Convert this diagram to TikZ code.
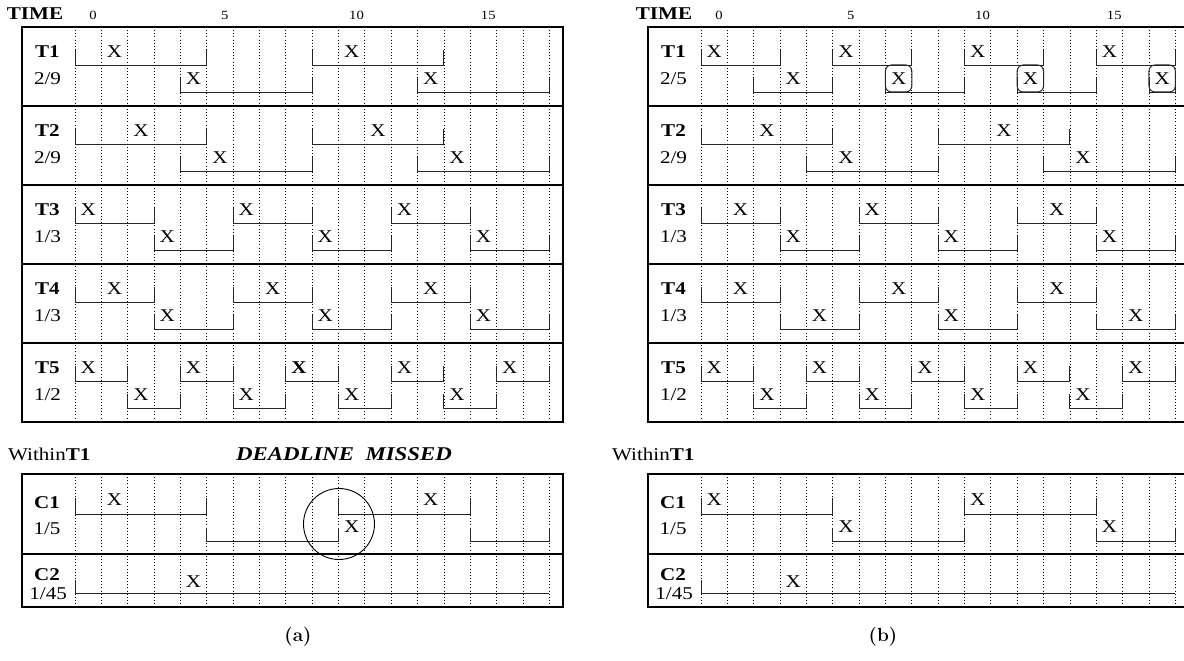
\documentclass[tikz,border=0pt]{standalone}
\usepackage{fontspec}
\newfontfamily\tms[FakeStretch=1.17]{Liberation Serif}
\newcount\xn
\def\uT{23}\def\uL{38}\def\uX{25}
\def\lT{51}\def\lL{65}\def\lX{52}
\newcommand\xup[1]{\global\advance\xn by 1 \node[xl] (x\the\xn) at ({#1+0.5},\uX) {X};}
\newcommand\xlo[1]{\global\advance\xn by 1 \node[xl] (x\the\xn) at ({#1+0.5},\lX) {X};}
\newcommand\hsn[2]{\draw[sl] (#1,\uT) |- (#2,\uL) -- (#2,\uT);}
\newcommand\lsn[2]{\draw[sl] (#1,\lT) |- (#2,\lL) -- (#2,\lT);}
\newcommand\hs[3]{\hsn{#1}{#2}\xup{#3}}
\newcommand\ls[3]{\lsn{#1}{#2}\xlo{#3}}
\newcommand\circx[1]{\draw[sl,line width=1pt,rounded corners=6pt] (#1,\uL) rectangle ({#1+1},\lL);}
\newcommand\rowlab[3]{\node[blab] (#1) at (-1.044,25) {#2}; \node[lab] (#1r) at (-1.044,52) {#3};}
\newcommand\panelbase[2]{%
  \foreach \i in {0,...,18} {
    \draw[gridl] ({#1+26.35*\i},27) -- ({#1+26.35*\i},422);
    \draw[gridl] ({#1+26.35*\i},474) -- ({#1+26.35*\i},607);
  }
  \draw[frame] ({#1-53},27) rectangle ({#1+488},422);
  \foreach \y in {106,185,264,343} {\draw[sep] ({#1-53},\y) -- ({#1+488},\y);}
  \draw[frame] ({#1-53},474) rectangle ({#1+488},607);
  \draw[sep] ({#1-53},554) -- ({#1+488},554);
  \foreach \t in {0,5,10,15} {\node[num] (#2n\t) at ({#1+26.35*\t+18},15) {\t};}
}
\tikzset{
  frame/.style={line width=1.1pt},
  sep/.style={line width=1.4pt},
  sl/.style={line width=0.9pt, black!85},
  gridl/.style={line width=0.75pt, dash pattern=on 0.75pt off 2.4pt},
  xl/.style={inner sep=0pt, font=\tms\fontsize{18}{20}\selectfont},
  xbold/.style={inner sep=0pt, font=\tms\bfseries\fontsize{18}{20}\selectfont},
  lab/.style={inner sep=0pt, font=\tms\fontsize{18}{20}\selectfont},
  blab/.style={inner sep=0pt, font=\tms\bfseries\fontsize{18}{20}\selectfont},
  num/.style={inner sep=0pt, font=\tms\fontsize{12.5}{14}\selectfont},
  head/.style={inner sep=0pt, font=\tms\bfseries\fontsize{18}{20}\selectfont},
  captext/.style={inner sep=0pt, font=\bfseries\fontsize{19}{22}\selectfont},
}
\begin{document}
\begin{tikzpicture}[x=1pt,y=-1pt]
\useasboundingbox (0,0) rectangle (1184,661);
\clip (0,0) rectangle (1184,661);

% ================= panel (a) =================
\panelbase{75}{a}
\node[head] (atime) at (35,14) {TIME};

\begin{scope}[xshift=75pt,yshift=-27pt,x=26.35pt]
  \rowlab{aT1}{T1}{2/9}
  \hs{0}{5}{1} \hs{9}{14}{10}
  \ls{4}{9}{4} \ls{13}{18}{13}
\end{scope}
\begin{scope}[xshift=75pt,yshift=-106pt,x=26.35pt]
  \rowlab{aT2}{T2}{2/9}
  \hs{0}{5}{2} \hs{9}{14}{11}
  \ls{4}{9}{5} \ls{13}{18}{14}
\end{scope}
\begin{scope}[xshift=75pt,yshift=-185pt,x=26.35pt]
  \rowlab{aT3}{T3}{1/3}
  \hs{0}{3}{0} \hs{6}{9}{6} \hs{12}{15}{12}
  \ls{3}{6}{3} \ls{9}{12}{9} \ls{15}{18}{15}
\end{scope}
\begin{scope}[xshift=75pt,yshift=-264pt,x=26.35pt]
  \rowlab{aT4}{T4}{1/3}
  \hs{0}{3}{1} \hs{6}{9}{7} \hs{12}{15}{13}
  \ls{3}{6}{3} \ls{9}{12}{9} \ls{15}{18}{15}
\end{scope}
\begin{scope}[xshift=75pt,yshift=-343pt,x=26.35pt]
  \rowlab{aT5}{T5}{1/2}
  \hs{0}{2}{0} \hs{4}{6}{4} \hsn{8}{10}
  \node[xbold] (aT5b) at (8.5,\uX) {X};
  \hs{12}{14}{12} \hs{16}{18}{16}
  \ls{2}{4}{2} \ls{6}{8}{6} \ls{10}{12}{10} \ls{14}{16}{14}
\end{scope}

\node[lab,anchor=west] (awithin) at (8,454) {Within{\bfseries T1}};
\node[head,font=\tms\bfseries\itshape\fontsize{19.5}{22}\selectfont] (amiss) at (344,454) {DEADLINE\ \ MISSED};

\begin{scope}[xshift=75pt,yshift=-474pt,x=26.35pt]
  \def\uT{24}\def\uL{40}\def\uX{26}
  \def\lT{54}\def\lL{67}\def\lX{53}
  \node[blab] (aC1) at (-1.06,29) {C1};
  \node[lab] (aC1r) at (-1.06,55) {1/5};
  \hs{0}{5}{1} \hs{10}{15}{13}
  \lsn{5}{10} \xlo{10} \lsn{15}{18}
\end{scope}
\begin{scope}[xshift=75pt,yshift=-554pt,x=26.35pt]
  \def\uT{26}\def\uL{39}\def\uX{28}
  \node[blab] (aC2) at (-1.06,21) {C2};
  \node[lab] (aC2r) at (-1.02,40) {1/45};
  \draw[sl] (0,\uT) |- (18,\uL);
  \xup{4}
\end{scope}
\node[draw,circle,line width=0.9pt,minimum size=71pt,inner sep=0pt] (amissc) at (339,524) {};

\node[captext] (capa) at (298,637) {(a)};

% ================= panel (b) =================
\panelbase{701}{b}
\node[head] (btime) at (664,14) {TIME};

\begin{scope}[xshift=701pt,yshift=-27pt,x=26.35pt]
  \rowlab{bT1}{T1}{2/5}
  \hs{0}{3}{0} \hs{5}{8}{5} \hs{10}{13}{10} \hs{15}{18}{15}
  \ls{2}{5}{3}
  \ls{7}{10}{7} \circx{7}
  \ls{12}{15}{12} \circx{12}
  \ls{17}{18}{17} \circx{17}
\end{scope}
\begin{scope}[xshift=701pt,yshift=-106pt,x=26.35pt]
  \rowlab{bT2}{T2}{2/9}
  \hs{0}{5}{2} \hs{9}{14}{11}
  \ls{4}{9}{5} \ls{13}{18}{14}
\end{scope}
\begin{scope}[xshift=701pt,yshift=-185pt,x=26.35pt]
  \rowlab{bT3}{T3}{1/3}
  \hs{0}{3}{1} \hs{6}{9}{6} \hs{12}{15}{13}
  \ls{3}{6}{3} \ls{9}{12}{9} \ls{15}{18}{15}
\end{scope}
\begin{scope}[xshift=701pt,yshift=-264pt,x=26.35pt]
  \rowlab{bT4}{T4}{1/3}
  \hs{0}{3}{1} \hs{6}{9}{7} \hs{12}{15}{13}
  \ls{3}{6}{4} \ls{9}{12}{9} \ls{15}{18}{16}
\end{scope}
\begin{scope}[xshift=701pt,yshift=-343pt,x=26.35pt]
  \rowlab{bT5}{T5}{1/2}
  \hs{0}{2}{0} \hs{4}{6}{4} \hs{8}{10}{8} \hs{12}{14}{12} \hs{16}{18}{16}
  \ls{2}{4}{2} \ls{6}{8}{6} \ls{10}{12}{10} \ls{14}{16}{14}
\end{scope}

\node[lab,anchor=west] (bwithin) at (612,454) {Within{\bfseries T1}};

\begin{scope}[xshift=701pt,yshift=-474pt,x=26.35pt]
  \def\uT{24}\def\uL{40}\def\uX{26}
  \def\lT{54}\def\lL{67}\def\lX{53}
  \node[blab] (bC1) at (-1.06,29) {C1};
  \node[lab] (bC1r) at (-1.06,55) {1/5};
  \hs{0}{5}{0} \hs{10}{15}{10}
  \ls{5}{10}{5} \ls{15}{18}{15}
\end{scope}
\begin{scope}[xshift=701pt,yshift=-554pt,x=26.35pt]
  \def\uT{26}\def\uL{39}\def\uX{28}
  \node[blab] (bC2) at (-1.06,21) {C2};
  \node[lab] (bC2r) at (-1.02,40) {1/45};
  \draw[sl] (0,\uT) |- (18,\uL);
  \xup{3}
\end{scope}

\node[captext] (capb) at (883,637) {(b)};
\end{tikzpicture}
\end{document}
